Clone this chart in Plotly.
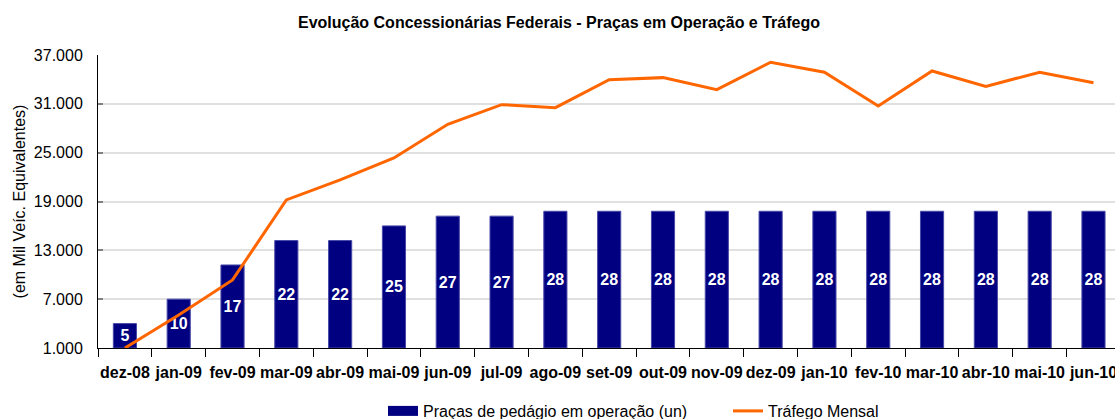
import plotly.graph_objects as go

meses = ["dez-08", "jan-09", "fev-09", "mar-09", "abr-09", "mai-09", "jun-09", "jul-09",
         "ago-09", "set-09", "out-09", "nov-09", "dez-09", "jan-10", "fev-10", "mar-10",
         "abr-10", "mai-10", "jun-10"]
pracas = [5, 10, 17, 22, 22, 25, 27, 27, 28, 28, 28, 28, 28, 28, 28, 28, 28, 28, 28]
trafego = [1000, 5050, 9360, 19190, 21650, 24350, 28490, 30900, 30530, 33970,
           34220, 32750, 36110, 34880, 30740, 35040, 33150, 34880, 33600]
y_ticks = [1000, 7000, 13000, 19000, 25000, 31000, 37000]

FONT = "Liberation Sans, Arial, sans-serif"
NAVY = "#000080"

fig = go.Figure()
fig.add_trace(go.Bar(
    x=meses, y=pracas, name="Praças de pedágio em operação (un)",
    marker=dict(color=NAVY, line=dict(color="#4848a8", width=1)),
    width=0.43, yaxis="y", showlegend=False,
    text=[str(v) for v in pracas], textposition="inside", insidetextanchor="middle",
    textangle=0, constraintext="none",
    textfont=dict(family=FONT, size=16, color="white", weight="bold"),
))
# legend key for the bars (wide navy swatch, as in the reference)
fig.add_trace(go.Scatter(
    x=[None], y=[None], name="Praças de pedágio em operação (un)", mode="lines",
    line=dict(color=NAVY, width=10), yaxis="y", hoverinfo="skip",
))
fig.add_trace(go.Scatter(
    x=meses, y=trafego, name="Tráfego Mensal", mode="lines",
    line=dict(color="#FF6600", width=3), yaxis="y2",
))

fig.update_layout(
    width=1115, height=419,
    margin=dict(l=98, r=0, t=55, b=71, autoexpand=False),
    paper_bgcolor="white", plot_bgcolor="white",
    separators=",.",
    font=dict(family=FONT, size=16, color="black"),
    uniformtext=dict(minsize=16, mode="show"),
    title=dict(text="<b>Evolução Concessionárias Federais - Praças em Operação e Tráfego</b>",
               x=559 / 1115, xref="container", xanchor="center",
               y=1 - 22 / 419, yref="container", yanchor="middle",
               font=dict(size=16, family=FONT, color="black")),
    xaxis=dict(type="category", range=[-0.5, 18.4], showgrid=False,
               showline=True, linecolor="black", linewidth=1,
               ticks="outside", tickson="boundaries", ticklen=8, tickcolor="black",
               tickangle=0,
               tickfont=dict(size=16, family=FONT, weight="bold"),
               ticklabelstandoff=10),
    yaxis=dict(range=[0, 60], showticklabels=False, showgrid=False, showline=False,
               zeroline=False, ticks=""),
    yaxis2=dict(overlaying="y", side="left", anchor="x", range=[1000, 37000],
                tickvals=y_ticks, tickformat=",.0f",
                showgrid=True, gridcolor="#e0e0e0", gridwidth=1.5,
                showline=True, linecolor="black", linewidth=1, zeroline=False,
                ticks="inside", ticklen=5, tickcolor="#808080", tickwidth=1.5,
                ticklabelstandoff=11,
                tickfont=dict(size=16, family=FONT),
                title=dict(text="(em Mil Veíc. Equivalentes)", standoff=4,
                           font=dict(size=16, family=FONT))),
    showlegend=True,
    legend=dict(orientation="h", xref="container", yref="container",
                x=383 / 1115, xanchor="left", yanchor="top", y=1 - 394 / 419,
                entrywidth=300, entrywidthmode="pixels",
                font=dict(size=16, family=FONT, color="black"),
                bgcolor="rgba(0,0,0,0)", borderwidth=0),
)

fig.write_html("out.html", config={"displayModeBar": False},
               post_script="document.body.style.margin='0';window.dispatchEvent(new Event('resize'));")
